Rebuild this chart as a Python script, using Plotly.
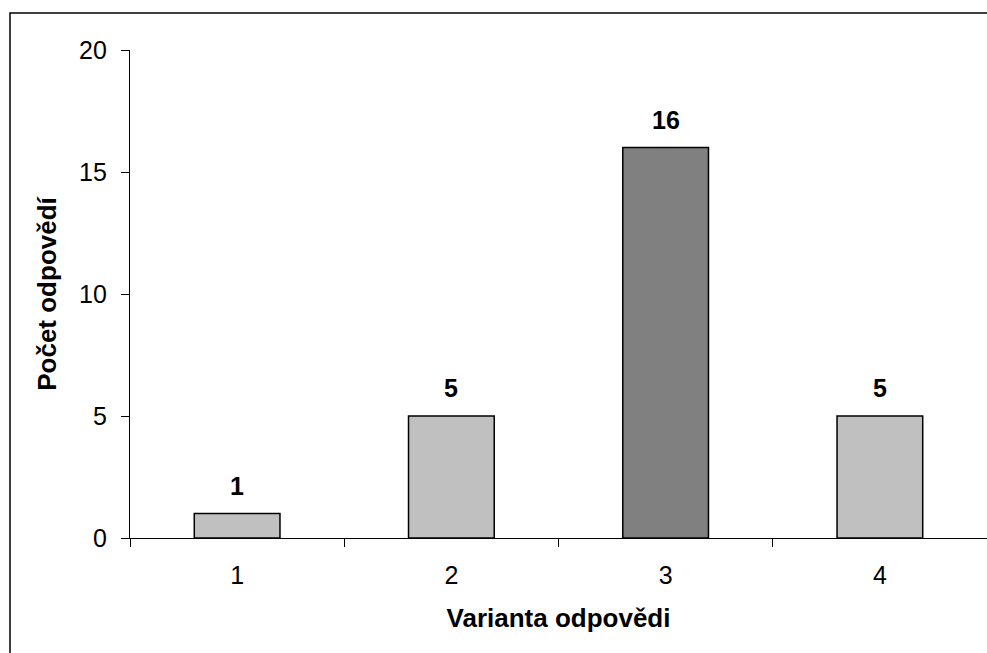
import plotly.graph_objects as go

categories = ["1", "2", "3", "4"]
values = [1, 5, 16, 5]
bar_colors = ["#C0C0C0", "#C0C0C0", "#808080", "#C0C0C0"]
y_ticks = [0, 5, 10, 15, 20]
x_title = "Varianta odpovědi"
y_title = "Počet odpovědí"

FONT = "Liberation Sans, Arial, sans-serif"

fig = go.Figure()
fig.add_trace(go.Bar(
    x=categories, y=values,
    marker=dict(color=bar_colors, line=dict(color="black", width=1.5)),
    width=0.4,
))

for i, v in enumerate(values):
    fig.add_annotation(x=i, y=v, xref="x", yref="y", text=f"<b>{v}</b>", showarrow=False,
                       yanchor="middle", yshift=28,
                       font=dict(family=FONT, size=25, color="black"))

# outer chart frame (its right and bottom edges lie outside the picture)
fig.add_shape(type="rect", xref="paper", yref="paper",
              x0=(10 - 130) / 857, x1=1.05, y0=-0.3, y1=(538 - 13) / 488,
              line=dict(color="black", width=1.5), fillcolor="rgba(0,0,0,0)",
              layer="below")

fig.update_layout(
    width=987, height=653,
    margin=dict(l=130, r=0, t=50, b=115),
    paper_bgcolor="white", plot_bgcolor="white",
    showlegend=False,
    font=dict(family=FONT, size=25, color="black"),
)
fig.update_xaxes(
    type="category", tickson="boundaries", range=[-0.5, 3.5],
    showline=True, linecolor="black", linewidth=1.2,
    ticks="outside", ticklen=8, tickcolor="black", tickwidth=1,
    showgrid=False, zeroline=False,
    tickfont=dict(family=FONT, size=25),
    ticklabelstandoff=15,
    title=dict(text=f"<b>{x_title}</b>", font=dict(family=FONT, size=26), standoff=20),
)
fig.update_yaxes(
    range=[0, 20], tickvals=y_ticks,
    showline=True, linecolor="black", linewidth=1.2,
    ticks="outside", ticklen=8, tickcolor="black", tickwidth=1,
    showgrid=False, zeroline=False,
    tickfont=dict(family=FONT, size=25),
    ticklabelstandoff=9,
    title=dict(text=f"<b>{y_title}</b>", font=dict(family=FONT, size=26), standoff=14),
)

fig.write_html(
    "out.html",
    config={"displayModeBar": False},
    post_script="document.body.style.margin='0';document.body.style.overflow='hidden';",
)
